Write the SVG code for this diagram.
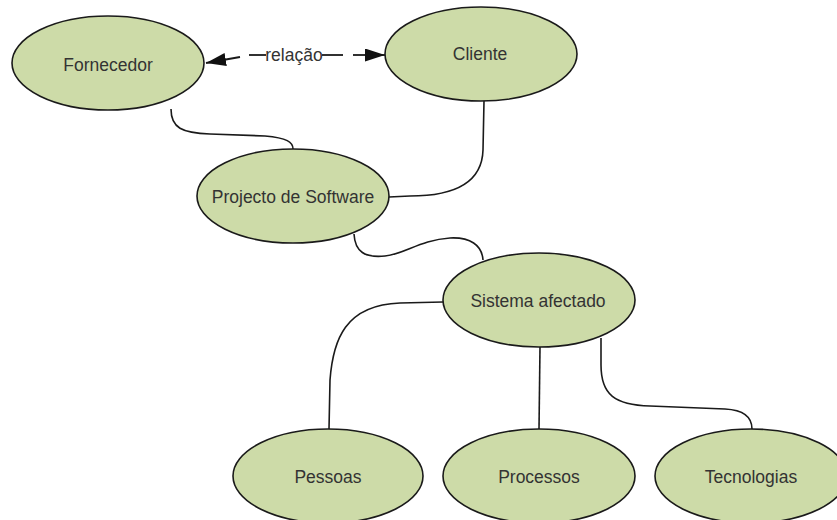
<svg xmlns="http://www.w3.org/2000/svg" width="837" height="520" viewBox="0 0 837 520">
  <style>
    .node ellipse { fill: #cddba8; stroke: #1a1a1a; stroke-width: 1.6; }
    .node text, .label { font-family: "Liberation Sans", Arial, sans-serif; font-size: 17.5px; fill: #333333; text-anchor: middle; dominant-baseline: central; }
    .link { fill: none; stroke: #1a1a1a; stroke-width: 1.6; }
    .rel { fill: none; stroke: #1a1a1a; stroke-width: 1.8; }
  </style>
  <defs>
    <marker id="arrow" markerUnits="userSpaceOnUse" markerWidth="21" markerHeight="14" refX="20" refY="6.5" orient="auto">
      <path d="M0,0 L20,6.5 L0,13 z" fill="#111111"/>
    </marker>
  </defs>
  <rect width="837" height="520" fill="#ffffff"/>

  <!-- connectors -->
  <g id="connectors">
    <path class="link" d="M 171 109 C 171 128, 182 133, 210 134 L 265 136 C 287 138, 293 142, 293 149"/>
    <path class="link" d="M 484 101 L 483 150 C 482 185, 450 196, 410 196 L 389 197"/>
    <path class="link" d="M 354 234 C 355 252, 365 258, 385 256 C 405 254, 420 240, 450 238 C 470 237, 482 245, 483 260"/>
    <path class="link" d="M 443 302 L 400 303 C 345 305, 333 340, 330 380 L 329 429"/>
    <path class="link" d="M 540 347 L 539 429"/>
    <path class="link" d="M 601 338 L 601 365 C 601 395, 615 405, 650 406 L 725 409 C 745 410, 752 418, 752 429"/>
    <!-- dashed two-way "relação" link, drawn as separate dashes -->
    <g id="relacao">
      <path class="rel" d="M 240 57 L 206 63" marker-end="url(#arrow)"/>
      <path class="rel" d="M 249 55 L 266 55"/>
      <path class="rel" d="M 322 55 L 343 55"/>
      <path class="rel" d="M 353 55 L 385 55" marker-end="url(#arrow)"/>
      <text class="label" x="294" y="55">relação</text>
    </g>
  </g>

  <!-- nodes -->
  <g id="fornecedor" class="node">
    <ellipse cx="108" cy="63" rx="96" ry="47"/>
    <text x="108" y="65">Fornecedor</text>
  </g>
  <g id="cliente" class="node">
    <ellipse cx="481" cy="54" rx="96" ry="47"/>
    <text x="480" y="54">Cliente</text>
  </g>
  <g id="projecto" class="node">
    <ellipse cx="293" cy="196" rx="96" ry="47"/>
    <text x="293" y="197">Projecto de Software</text>
  </g>
  <g id="sistema" class="node">
    <ellipse cx="539" cy="300" rx="96" ry="47"/>
    <text x="538" y="301">Sistema afectado</text>
  </g>
  <g id="pessoas" class="node">
    <ellipse cx="328" cy="476" rx="95" ry="47"/>
    <text x="328" y="477">Pessoas</text>
  </g>
  <g id="processos" class="node">
    <ellipse cx="539" cy="476" rx="96" ry="47"/>
    <text x="539" y="477">Processos</text>
  </g>
  <g id="tecnologias" class="node">
    <ellipse cx="751" cy="476" rx="96" ry="47"/>
    <text x="751" y="477">Tecnologias</text>
  </g>
</svg>
